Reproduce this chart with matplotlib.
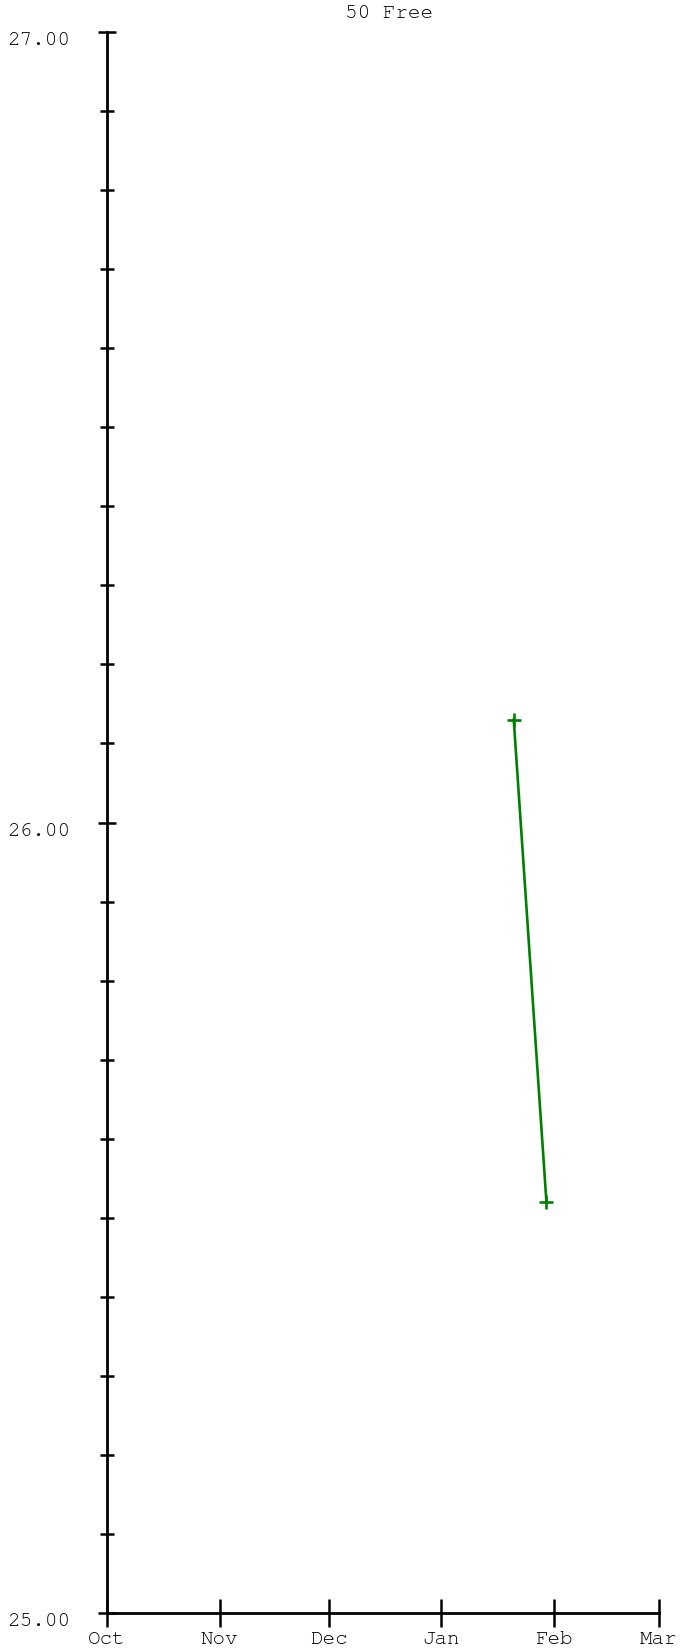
#!/usr/bin/env python3
"""Swim time trend chart: 50 Free."""

import matplotlib

matplotlib.use("Agg")

import logging

import matplotlib.dates as mdates
import matplotlib.pyplot as plt
import numpy as np
from matplotlib.font_manager import FontProperties
from matplotlib.ticker import FixedLocator, MultipleLocator

logging.getLogger("matplotlib.font_manager").setLevel(logging.ERROR)

TITLE = "50 Free"
swim_dates = np.array(["2024-01-21", "2024-01-30"], dtype="datetime64[D]")
swim_times = [26.13, 25.52]
x_range = np.array(["2023-10-01", "2024-03-01"], dtype="datetime64[D]")
y_range = (25.0, 27.0)
y_major = [25.0, 26.0, 27.0]

W, H, DPI = 680, 1650, 100
fig = plt.figure(figsize=(W / DPI, H / DPI), dpi=DPI)
ax = fig.add_axes([107 / W, 37 / H, (659 - 107) / W, (1613 - 32) / H])

families = ["Courier New", "Nimbus Mono PS", "FreeMono", "Liberation Mono", "DejaVu Sans Mono"]
font = {"family": families, "size": 15}

x = mdates.date2num(swim_dates.astype("O"))
ax.plot(x, swim_times, color="#008000", linewidth=1.9, marker="+",
        markersize=10, markeredgewidth=1.9, clip_on=False)

ax.set_xlim(mdates.date2num(x_range.astype("O")))
ax.set_ylim(*y_range)

ax.xaxis.set_major_locator(mdates.MonthLocator())
ax.xaxis.set_major_formatter(mdates.DateFormatter("%b"))
ax.yaxis.set_major_locator(FixedLocator(y_major))
ax.yaxis.set_minor_locator(MultipleLocator(0.1))
ax.yaxis.set_major_formatter(lambda v, p: f"{v:.2f}")

for side in ("top", "right"):
    ax.spines[side].set_visible(False)
for side in ("left", "bottom"):
    ax.spines[side].set_linewidth(2.0)

ax.tick_params(axis="y", which="major", direction="inout", length=13, width=1.8, pad=20)
ax.tick_params(axis="y", which="minor", direction="inout", length=9.4, width=1.8)
ax.tick_params(axis="x", which="major", direction="inout", length=19.5, width=1.8, pad=3.0)

for lbl in ax.get_yticklabels():
    lbl.set_fontproperties(FontProperties(**font))
    lbl.set_va("top")
for lbl in ax.get_xticklabels():
    lbl.set_fontproperties(FontProperties(**font))

fig.text(389 / W, 1 - 13 / H, TITLE, ha="center", va="center", **font)

fig.savefig("out.png", dpi=DPI)
